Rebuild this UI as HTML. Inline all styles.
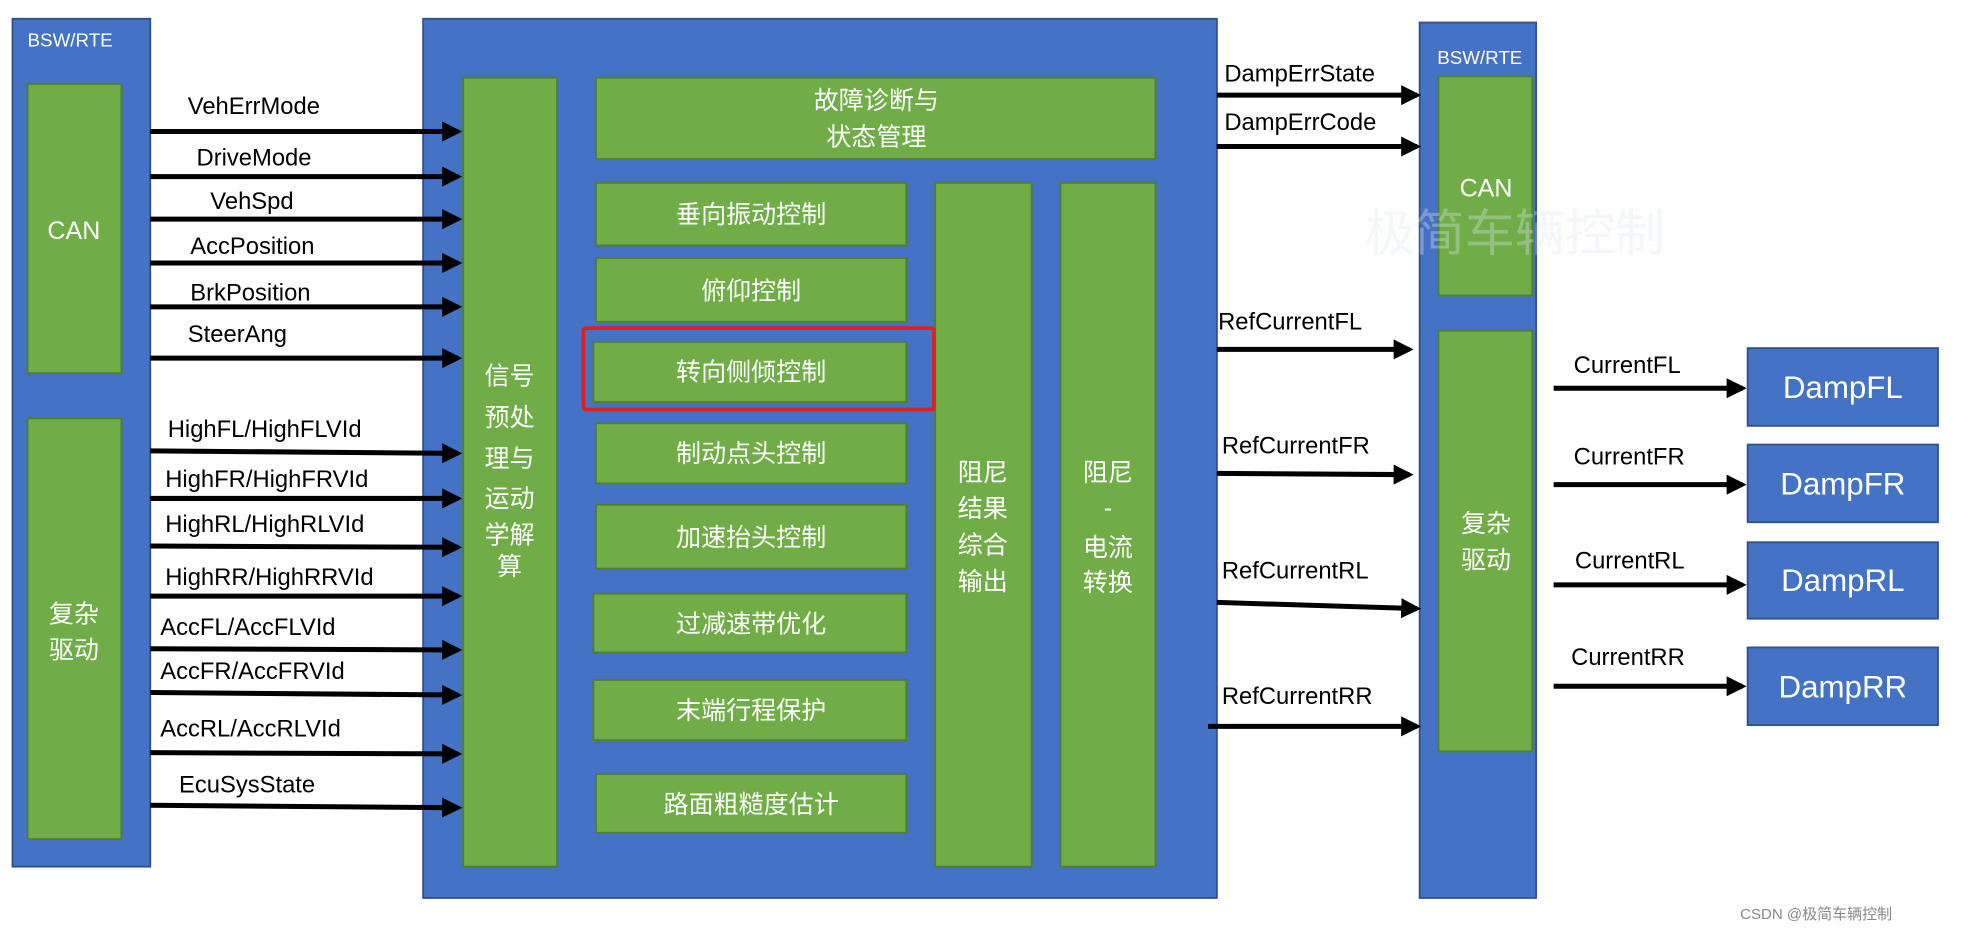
<!DOCTYPE html>
<html><head><meta charset="utf-8"><style>html,body{margin:0;padding:0;background:#fff}svg{display:block}</style></head>
<body>
<svg width="1963" height="933" viewBox="0 0 1568 745" preserveAspectRatio="none" xmlns="http://www.w3.org/2000/svg" font-family="Liberation Sans, Noto Sans CJK SC, sans-serif">
<defs><marker id="a" markerWidth="4" markerHeight="4" refX="3.2" refY="2" orient="auto" markerUnits="strokeWidth"><path d="M0,0 L4,2 L0,4 z" fill="#000"/></marker></defs>
<g stroke="#2F528F" stroke-width="1.5" fill="#4472C4">
<rect x="10" y="15" width="110" height="677"/>
<rect x="338" y="15" width="634" height="702"/>
<rect x="1134" y="18" width="93" height="699"/>
<rect x="1396" y="278" width="152" height="62"/>
<rect x="1396" y="355" width="152" height="62"/>
<rect x="1396" y="433" width="152" height="61"/>
<rect x="1396" y="517" width="152" height="62"/>
</g>
<g stroke="#507E32" stroke-width="1.5" fill="#70AD47">
<rect x="22" y="67" width="75" height="231"/>
<rect x="22" y="334" width="75" height="336"/>
<rect x="370" y="62" width="75" height="630"/>
<rect x="476" y="62" width="447" height="65"/>
<rect x="476" y="146" width="248" height="50"/>
<rect x="476" y="206" width="248" height="51"/>
<rect x="474" y="273" width="250" height="48"/>
<rect x="476" y="338" width="248" height="48"/>
<rect x="476" y="403" width="248" height="51"/>
<rect x="474" y="474" width="250" height="47"/>
<rect x="474" y="543" width="250" height="48"/>
<rect x="476" y="618" width="248" height="47"/>
<rect x="747" y="146" width="77" height="546"/>
<rect x="847" y="146" width="76" height="546"/>
<rect x="1149" y="61" width="75" height="175"/>
<rect x="1149" y="264" width="75" height="336"/>
</g>
<rect x="466" y="262" width="280" height="65" fill="none" stroke="#E02020" stroke-width="3" rx="2"/>
<text x="1090" y="200" font-size="40" fill="#DCE6F2" fill-opacity="0.35">极简车辆控制</text>
<g fill="#fff" font-size="15"><text x="22" y="37">BSW/RTE</text><text x="1148" y="51">BSW/RTE</text></g>
<g fill="#fff" font-size="20" text-anchor="middle">
<text x="59" y="191">CAN</text><text x="1187" y="157">CAN</text>
<text x="59" y="497">复杂</text><text x="59" y="526">驱动</text>
<text x="1187" y="425">复杂</text><text x="1187" y="454">驱动</text>
<text x="407" y="307">信号</text><text x="407" y="340">预处</text><text x="407" y="373">理与</text><text x="407" y="405">运动</text><text x="407" y="434">学解</text><text x="407" y="459">算</text>
<text x="700" y="87">故障诊断与</text><text x="700" y="116">状态管理</text>
<text x="600" y="178">垂向振动控制</text>
<text x="600" y="239">俯仰控制</text>
<text x="600" y="304">转向侧倾控制</text>
<text x="600" y="369">制动点头控制</text>
<text x="600" y="436">加速抬头控制</text>
<text x="600" y="505">过减速带优化</text>
<text x="600" y="574">末端行程保护</text>
<text x="600" y="649">路面粗糙度估计</text>
<text x="785" y="384">阻尼</text><text x="785" y="413">结果</text><text x="785" y="442">综合</text><text x="785" y="471">输出</text>
<text x="885" y="384">阻尼</text><text x="885" y="412">-</text><text x="885" y="444">电流</text><text x="885" y="472">转换</text>
<g font-size="25"><text x="1472" y="318">DampFL</text><text x="1472" y="395">DampFR</text><text x="1472" y="472">DampRL</text><text x="1472" y="557">DampRR</text></g>
</g>
<g stroke="#000" stroke-width="4" marker-end="url(#a)">
<line x1="120" y1="105" x2="366" y2="105"/><line x1="120" y1="141" x2="366" y2="141"/><line x1="120" y1="175" x2="366" y2="175"/><line x1="120" y1="210" x2="366" y2="210"/><line x1="120" y1="245" x2="366" y2="245"/><line x1="120" y1="286" x2="366" y2="286"/>
<line x1="120" y1="360" x2="366" y2="362"/><line x1="120" y1="398" x2="366" y2="398"/><line x1="120" y1="436" x2="366" y2="437"/><line x1="120" y1="476" x2="366" y2="476"/><line x1="120" y1="518" x2="366" y2="519"/><line x1="120" y1="553" x2="366" y2="555"/><line x1="120" y1="601" x2="366" y2="602"/><line x1="120" y1="643" x2="366" y2="645"/>
<line x1="972" y1="76" x2="1132" y2="76"/><line x1="972" y1="117" x2="1132" y2="117"/>
<line x1="972" y1="279" x2="1126" y2="279"/><line x1="972" y1="378" x2="1126" y2="379"/><line x1="972" y1="481" x2="1132" y2="486"/><line x1="965" y1="580" x2="1132" y2="580"/>
<line x1="1241" y1="310" x2="1392" y2="310"/><line x1="1241" y1="387" x2="1392" y2="387"/><line x1="1241" y1="467" x2="1392" y2="467"/><line x1="1241" y1="548" x2="1392" y2="548"/>
</g>
<g fill="#000" font-size="19">
<text x="150" y="91">VehErrMode</text><text x="157" y="132">DriveMode</text><text x="168" y="167">VehSpd</text><text x="152" y="203">AccPosition</text><text x="152" y="240">BrkPosition</text><text x="150" y="273">SteerAng</text>
<text x="134" y="349">HighFL/HighFLVId</text><text x="132" y="389">HighFR/HighFRVId</text><text x="132" y="425">HighRL/HighRLVId</text><text x="132" y="467">HighRR/HighRRVId</text><text x="128" y="507">AccFL/AccFLVId</text><text x="128" y="542">AccFR/AccFRVId</text><text x="128" y="588">AccRL/AccRLVId</text><text x="143" y="633">EcuSysState</text>
<text x="978" y="65">DampErrState</text><text x="978" y="104">DampErrCode</text>
<text x="973" y="263">RefCurrentFL</text><text x="976" y="362">RefCurrentFR</text><text x="976" y="462">RefCurrentRL</text><text x="976" y="562">RefCurrentRR</text>
<text x="1257" y="298">CurrentFL</text><text x="1257" y="371">CurrentFR</text><text x="1258" y="454">CurrentRL</text><text x="1255" y="531">CurrentRR</text>
</g>
<text x="1390" y="734" font-size="12" fill="#888">CSDN @极简车辆控制</text>
</svg>
</body></html>
